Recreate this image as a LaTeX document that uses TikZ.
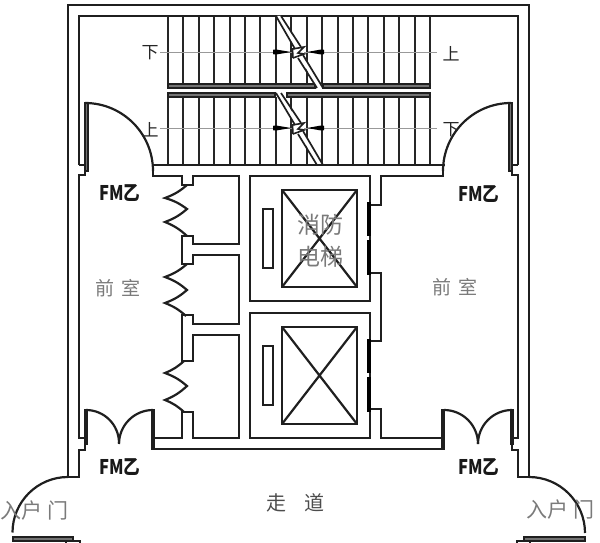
\documentclass[tikz,border=0pt]{standalone}
\usepackage{fontspec}
\setmainfont{Liberation Sans}
\newfontfamily\cjk{Noto Sans CJK SC}
\tikzset{
  wall/.style={line width=2.2pt,draw=black!88,line join=miter},
  thin wall/.style={line width=2pt,draw=black!85},
  leaf/.style={line width=1.5pt,draw=black!88,fill=black!55},
  doorarc/.style={line width=2.2pt,draw=black!88},
  axisline/.style={line width=0.9pt,draw=black!40},
  graylabel/.style={text=black!52,font=\cjk\fontsize{19}{19}\selectfont,inner sep=0pt},
  marklabel/.style={text=black!85,font=\cjk\fontsize{17}{17}\selectfont,inner sep=0pt},
  fmlabel/.style={text=black!90,font=\cjk\bfseries\fontsize{18}{18}\selectfont,inner sep=0pt,xscale=0.92,yscale=1.12},
  wedge/.style={fill=black,draw=none}
}
\begin{document}
\begin{tikzpicture}[x=1pt,y=-1pt]
\useasboundingbox (0,0) rectangle (600,543);
% outer shell
\draw[wall] (68,477) -- (68,5) -- (529,5) -- (529,477);
\draw[wall] (79,165) -- (79,16) -- (518,16) -- (518,165);
% stairs
\foreach \i in {0,...,17}{
  \draw[thin wall] ({168+15.41*\i},16) -- ({168+15.41*\i},84);
  \draw[thin wall] ({168+15.41*\i},97) -- ({168+15.41*\i},165);
}
\draw[wall] (168,16) -- (430,16);
\draw[leaf] (168,84) rectangle (315,88);
\draw[leaf] (323,84) rectangle (430,88);
\draw[leaf] (168,93) rectangle (275,97);
\draw[leaf] (287,93) rectangle (430,97);
\draw[axisline] (160,52) -- (437,52);
\draw[axisline] (160,128) -- (437,128);
% breaks
\foreach \yt/\yb/\ym in {16/88/52,93/165/128}{
  \fill[white] (277,\yt) -- (281,\yt) -- (323,\yb) -- (317,\yb) -- cycle;
  \fill[white] (293,{\ym-4}) rectangle (304,{\ym+6});
  \draw[line width=1.7pt,black!88] (276,\yt) -- (295,{\ym-3}) (281,\yt) -- (301,{\ym-5});
  \draw[line width=1.7pt,black!88] (298,{\ym+6}) -- (317,\yb) (303,{\ym+3}) -- (323,\yb);
  \draw[line width=1.6pt,black!88,line join=miter] (293,{\ym+6}) -- (292.5,{\ym-3}) -- (304,{\ym-5}) -- (298,{\ym+1}) -- (304,{\ym+2}) -- (293,{\ym+6});
  \fill[wedge] (273,{\ym-2.2}) -- (276,{\ym-2.5}) -- (291,\ym) -- (276,{\ym+2.5}) -- (273,{\ym+2.2}) -- cycle;
  \fill[wedge] (324,{\ym-2.2}) -- (321,{\ym-2.5}) -- (307,\ym) -- (321,{\ym+2.5}) -- (324,{\ym+2.2}) -- cycle;
}
% landing edge and cores (left)
\draw[wall] (153,165) -- (445,165);
\draw[wall] (153,165) -- (153,176) -- (182,176) -- (182,185) -- (193,185) -- (193,176) -- (239,176) -- (239,244) -- (193,244) -- (193,236) -- (182,236) -- (182,264) -- (193,264) -- (193,255) -- (239,255) -- (239,324) -- (193,324) -- (193,315) -- (182,315) -- (182,361) -- (193,361) -- (193,335) -- (239,335) -- (239,438) -- (193,438) -- (193,412) -- (182,412) -- (182,438) -- (153,438);
\draw[wall] (153,449) -- (443,449);
% right of elevators
\draw[wall] (443,165) -- (443,176) -- (381,176) -- (381,205) -- (370,205);
\draw[wall] (370,273) -- (381,273) -- (381,341) -- (370,341);
\draw[wall] (370,409) -- (381,409) -- (381,438) -- (443,438);
% walls beside side rooms
\draw[wall] (79,165) -- (85,165);
\draw[wall] (85,171) -- (85,175) -- (79,175) -- (79,438) -- (85,438);
\draw[wall] (85,444) -- (85,450) -- (79,450) -- (79,477) -- (68,477);
\draw[wall] (518,165) -- (512,165);
\draw[wall] (512,171) -- (512,175) -- (518,175) -- (518,438) -- (512,438);
\draw[wall] (512,444) -- (512,450) -- (518,450) -- (518,477) -- (529,477);
% door leaves
\draw[leaf] (85,103) rectangle (88,171);
\draw[leaf] (509,103) rectangle (512,171);
\draw[leaf] (85,410) rectangle (87,444);
\draw[leaf] (152,410) rectangle (154,449);
\draw[leaf] (442,410) rectangle (444,449);
\draw[leaf] (511,410) rectangle (513,444);
\draw[leaf] (13,537) rectangle (73,541);
\draw[leaf] (524,537) rectangle (585,541);
\draw[wall] (66,543) -- (66,541) -- (80,541) -- (80,543);
\draw[wall] (517,543) -- (517,541) -- (530,541) -- (530,543);
% door swings
\draw[doorarc] (85,103) arc[start angle=-90,end angle=0,radius=68];
\draw[doorarc] (511,103) arc[start angle=-90,end angle=-180,radius=68];
\draw[doorarc] (86,410) arc[start angle=-90,end angle=0,radius=33];
\draw[doorarc] (153,410) arc[start angle=-90,end angle=-180,radius=34];
\draw[doorarc] (444,410) arc[start angle=-90,end angle=0,radius=34];
\draw[doorarc] (512,410) arc[start angle=-90,end angle=-180,radius=34];
\draw[doorarc] (68,477) arc[start angle=-90,end angle=-180,radius=55.5];
\draw[doorarc] (529,477) arc[start angle=-90,end angle=0,radius=56];
% zigzag doors
\draw[doorarc] (187,185) to[bend left=10] (165,198) to[bend left=10] (187,209) to[bend left=10] (165,222) to[bend left=10] (187,236);
\draw[doorarc] (187,264) to[bend left=10] (165,277) to[bend left=10] (187,290) to[bend left=10] (165,303) to[bend left=10] (186,316);
\draw[doorarc] (184,361) to[bend left=10] (165,373) to[bend left=10] (187,386) to[bend left=10] (165,400) to[bend left=10] (184,412);
% elevators
\foreach \y in {0,137}{
  \draw[wall] (250,{176+\y}) rectangle (370,{301+\y});
  \draw[wall] (282,{190+\y}) rectangle (357,{287+\y});
  \draw[wall] (282,{190+\y}) -- (357,{287+\y}) (357,{190+\y}) -- (282,{287+\y});
  \draw[line width=1.7pt,black!88] (263,{209+\y}) rectangle (273,{268+\y});
  \fill[black] (366.5,{202+\y}) rectangle (370.5,{236+\y});
  \fill[black] (366.5,{240+\y}) rectangle (370.5,{275+\y});
}
% labels
\node[fmlabel] (fm1) at (120,193) {FM乙};
\node[fmlabel] (fm2) at (479,194) {FM乙};
\node[fmlabel] (fm3) at (120,467) {FM乙};
\node[fmlabel] (fm4) at (479,467) {FM乙};
\node[graylabel] (q1) at (118,288) {前\hspace{7pt}室};
\node[graylabel] (q2) at (455,287) {前\hspace{7pt}室};
\node[graylabel,font=\cjk\fontsize{23}{23}\selectfont] (xf) at (320,225) {消防};
\node[graylabel,font=\cjk\fontsize{23}{23}\selectfont] (dt) at (320,257) {电梯};
\node[graylabel,text=black!70,font=\cjk\fontsize{20}{20}\selectfont] (zd) at (295,503) {走\hspace{18pt}道};
\node[graylabel,font=\cjk\fontsize{21}{21}\selectfont] (rh1) at (35,511) {入户\hspace{5pt}门};
\node[graylabel,font=\cjk\fontsize{21}{21}\selectfont] (rh2) at (560,510) {入户\hspace{5pt}门};
\node[marklabel] (x1) at (150,53) {下};
\node[marklabel] (s1) at (451,54) {上};
\node[marklabel] (s2) at (150,130) {上};
\node[marklabel] (x2) at (451,130) {下};
\end{tikzpicture}
\end{document}
